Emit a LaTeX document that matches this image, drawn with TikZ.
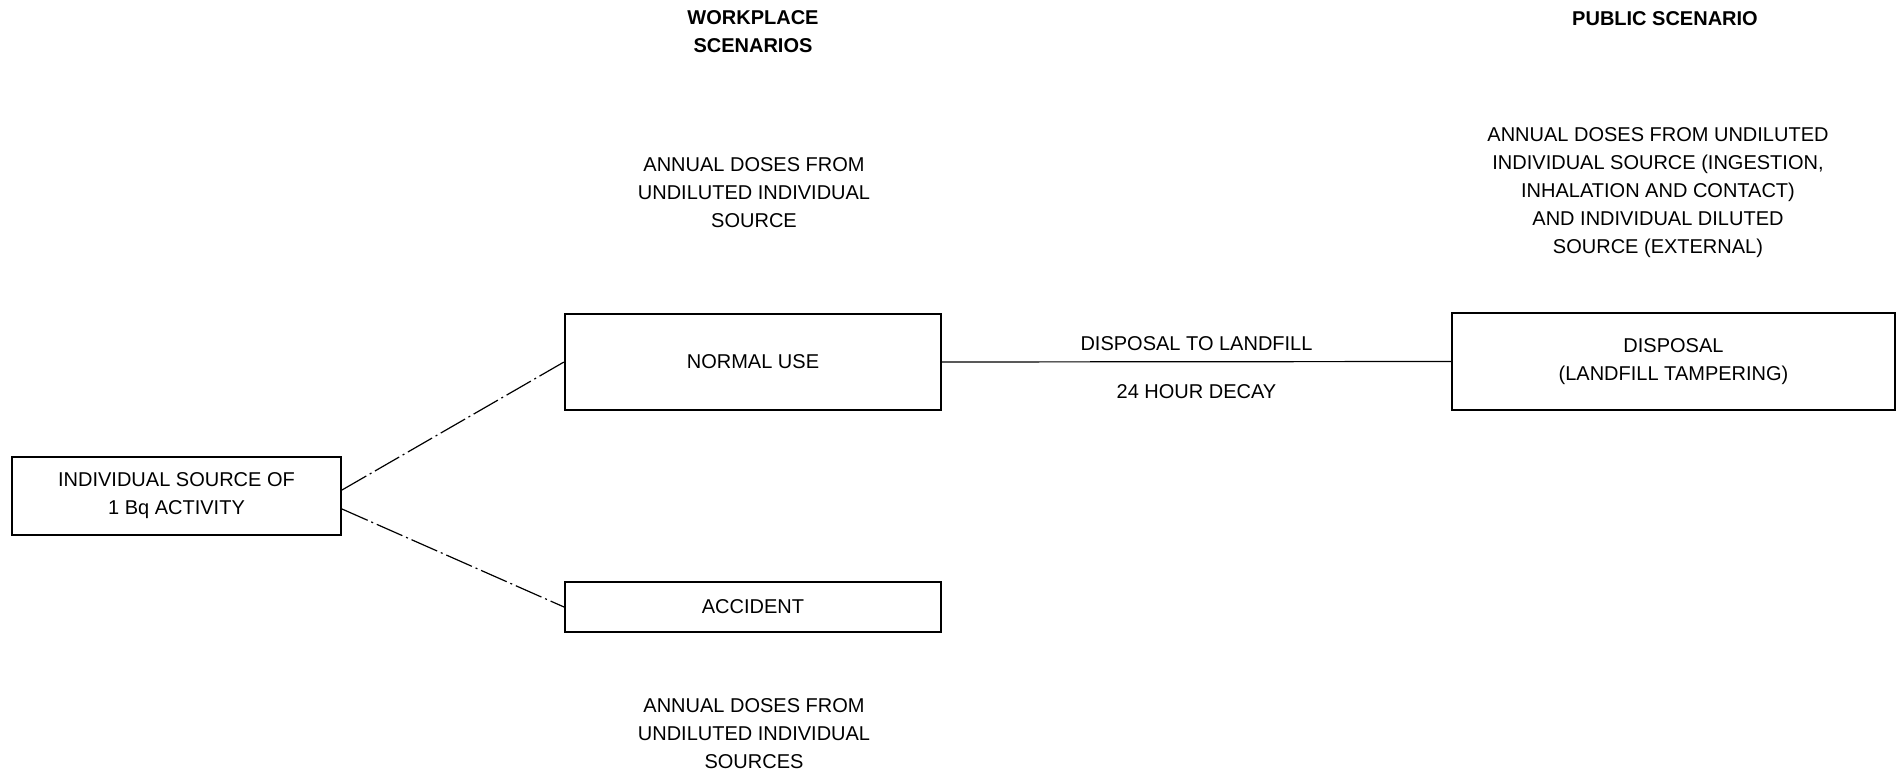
\documentclass[tikz,border=0pt]{standalone}
\usepackage{fontspec}
\setmainfont{Liberation Sans}
\begin{document}
\begin{tikzpicture}[
    x=0.5pt, y=-0.5pt,
    every node/.style={font=\fontsize{10}{14}\selectfont, align=center},
    box/.style={draw, line width=1pt, inner sep=0pt},
    head/.style={font=\fontsize{10}{14}\selectfont\bfseries},
    link/.style={line width=0.6pt, dash pattern=on 14pt off 2pt on 1pt off 2pt}
  ]
    \useasboundingbox (0,0) rectangle (1902,774);

    % headings
    \node[head] (work)  at (753, 32)  {WORKPLACE\\SCENARIOS};
    \node[head] (pub)   at (1665, 19) {PUBLIC SCENARIO};

    % boxes
    \node[box, minimum width=164.5pt, minimum height=39pt] (src)  at (176.5, 496)
        {INDIVIDUAL SOURCE OF\\1 Bq ACTIVITY};
    \node[box, minimum width=188pt, minimum height=48pt]   (use)  at (753, 362)
        {NORMAL USE};
    \node[box, minimum width=188pt, minimum height=25pt]   (acc)  at (753, 607)
        {ACCIDENT};
    \node[box, minimum width=221.5pt, minimum height=48.5pt] (disp) at (1673.5, 361.5)
        {DISPOSAL\\(LANDFILL TAMPERING)};

    % dose notes
    \node (useDose)  at (754, 193)  {ANNUAL DOSES FROM\\UNDILUTED INDIVIDUAL\\SOURCE};
    \node (accDose)  at (754, 734)  {ANNUAL DOSES FROM\\UNDILUTED INDIVIDUAL\\SOURCES};
    \node (dispDose) at (1658, 193) {ANNUAL DOSES FROM UNDILUTED\\
                                     INDIVIDUAL SOURCE (INGESTION,\\
                                     INHALATION AND CONTACT)\\
                                     AND INDIVIDUAL DILUTED\\
                                     SOURCE (EXTERNAL)};

    \draw[link] ([yshift=3pt]src.east)  -- (use.west);
    \draw[link] ([yshift=-6.5pt]src.east) -- (acc.west);
    \draw[line width=0.6pt] (use.east) -- (disp.west)
        node[midway, above=5pt, inner sep=0pt] (toLand) {DISPOSAL TO LANDFILL}
        node[midway, below=11pt, inner sep=0pt] (decay) {24 HOUR DECAY};
  \end{tikzpicture}
\end{document}
